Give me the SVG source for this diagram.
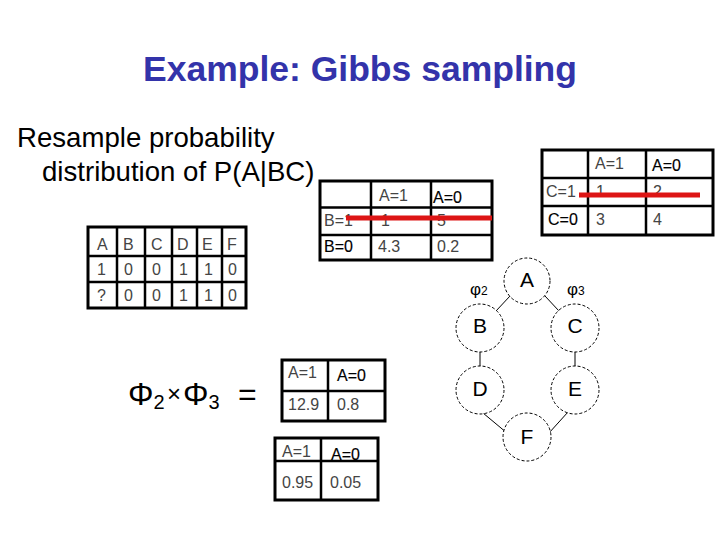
<svg xmlns="http://www.w3.org/2000/svg" width="720" height="540" viewBox="0 0 720 540">
<style>
.title{font-family:"Liberation Sans",Arial,sans-serif;font-weight:bold;font-size:35.5px;fill:#3333aa}
.body{font-family:"Liberation Sans",Arial,sans-serif;font-size:27.6px;fill:#000}
.t{font-family:"Liberation Sans",Arial,sans-serif;font-size:16px;fill:#444}
.dk{fill:#000;stroke:#000;stroke-width:0.15}
.grid{fill:none;stroke:#000;stroke-width:2.5}
.outer{fill:#fff;stroke:#000;stroke-width:3}
.red{stroke:#dd1515;stroke-width:5}
.node{fill:#fff;stroke:#000;stroke-width:1;stroke-dasharray:3 2}
.lbl{font-family:"Liberation Sans",Arial,sans-serif;font-size:21px;fill:#000;text-anchor:middle}
.edge{stroke:#000;stroke-width:1}
.phi{font-family:"Liberation Sans",Arial,sans-serif;fill:#000}
</style>
<rect width="720" height="540" fill="#fff"/>
<text class="title" x="360" y="81" text-anchor="middle">Example: Gibbs sampling</text>
<text class="body" x="17" y="147">Resample probability</text>
<text class="body" x="42" y="181">distribution of P(A|BC)</text>

<g id="evidence-table">
<rect class="outer" x="88" y="227" width="158" height="81"/>
<path class="grid" d="M117 227V308M145 227V308M172 227V308M197 227V308M222 227V308M88 256H246M88 282H246"/>
<text class="t" y="250"><tspan x="97">A</tspan><tspan x="123">B</tspan><tspan x="151">C</tspan><tspan x="177">D</tspan><tspan x="202">E</tspan><tspan x="227">F</tspan></text>
<text class="t" y="275"><tspan x="97">1</tspan><tspan x="124">0</tspan><tspan x="152">0</tspan><tspan x="179">1</tspan><tspan x="204">1</tspan><tspan x="228">0</tspan></text>
<text class="t" y="301"><tspan x="97">?</tspan><tspan x="124">0</tspan><tspan x="152">0</tspan><tspan x="179">1</tspan><tspan x="204">1</tspan><tspan x="228">0</tspan></text>
</g>

<g id="phi2-table">
<rect class="outer" x="320" y="181" width="172" height="79"/>
<path class="grid" d="M371 181V260M431 181V260M320 207.5H492M320 235H492"/>
<text class="t" x="379" y="201">A=1</text>
<text class="t dk" x="433" y="203">A=0</text>
<text class="t" x="324" y="226">B=1</text>
<text class="t" x="381" y="226">1</text>
<text class="t" x="437" y="226">5</text>
<text class="t dk" x="324" y="252">B=0</text>
<text class="t" x="378" y="252">4.3</text>
<text class="t" x="437" y="252">0.2</text>
<line class="red" x1="346" y1="218" x2="492" y2="218"/>
</g>

<g id="phi3-table">
<rect class="outer" x="542" y="150" width="171" height="85"/>
<path class="grid" d="M588 150V235M646 150V235M542 178H713M542 206H713"/>
<text class="t" x="595" y="169">A=1</text>
<text class="t dk" x="652" y="171">A=0</text>
<text class="t" x="546" y="197">C=1</text>
<text class="t" x="596" y="197">1</text>
<text class="t" x="653" y="197">2</text>
<text class="t dk" x="548" y="225">C=0</text>
<text class="t" x="596" y="225">3</text>
<text class="t" x="653" y="225">4</text>
<line class="red" x1="579" y1="195" x2="700" y2="195"/>
</g>

<g id="product-formula">
<text class="phi" x="128" y="405" font-size="32">Φ</text>
<text class="phi" x="153.5" y="409" font-size="20">2</text>
<text class="phi" x="167" y="402" font-size="24">×</text>
<text class="phi" x="183" y="405" font-size="32">Φ</text>
<text class="phi" x="208.5" y="409" font-size="20">3</text>
<text class="phi" x="238" y="405" font-size="32">=</text>
</g>

<g id="product-table">
<rect class="outer" x="282" y="360" width="103" height="61"/>
<path class="grid" d="M328 360V421M282 391H385"/>
<text class="t" x="288" y="378">A=1</text>
<text class="t dk" x="337" y="381">A=0</text>
<text class="t" x="288" y="410">12.9</text>
<text class="t" x="337" y="410">0.8</text>
</g>

<g id="normalized-table">
<rect class="outer" x="275" y="438" width="103" height="62"/>
<path class="grid" d="M321 438V500M275 461H378"/>
<text class="t" x="282" y="457">A=1</text>
<text class="t dk" x="331" y="460">A=0</text>
<text class="t" x="282" y="488">0.95</text>
<text class="t" x="330" y="488">0.05</text>
</g>

<g id="connectors">
<line class="edge" x1="510" y1="296" x2="496" y2="311"/>
<line class="edge" x1="545" y1="296" x2="559" y2="311"/>
<line class="edge" x1="480" y1="352" x2="480" y2="366"/>
<line class="edge" x1="575" y1="352" x2="575" y2="366"/>
<line class="edge" x1="483" y1="413" x2="507" y2="433"/>
<line class="edge" x1="568" y1="412" x2="549" y2="433"/>
</g>

<g id="node-A"><circle class="node" cx="527" cy="281" r="23"/><text class="lbl" x="527" y="287">A</text></g>
<g id="node-B"><circle class="node" cx="480" cy="328" r="24"/><text class="lbl" x="480" y="333">B</text></g>
<g id="node-C"><circle class="node" cx="575" cy="328" r="24"/><text class="lbl" x="575" y="333">C</text></g>
<g id="node-D"><circle class="node" cx="480" cy="390" r="24"/><text class="lbl" x="480" y="396">D</text></g>
<g id="node-E"><circle class="node" cx="575" cy="390" r="24"/><text class="lbl" x="575" y="396">E</text></g>
<g id="node-F"><circle class="node" cx="527" cy="437" r="24"/><text class="lbl" x="527" y="444">F</text></g>

<g id="factor-labels">
<text class="phi" x="470" y="295" font-size="17">φ<tspan font-size="12">2</tspan></text>
<text class="phi" x="567" y="295" font-size="17">φ<tspan font-size="12">3</tspan></text>
</g>
</svg>
